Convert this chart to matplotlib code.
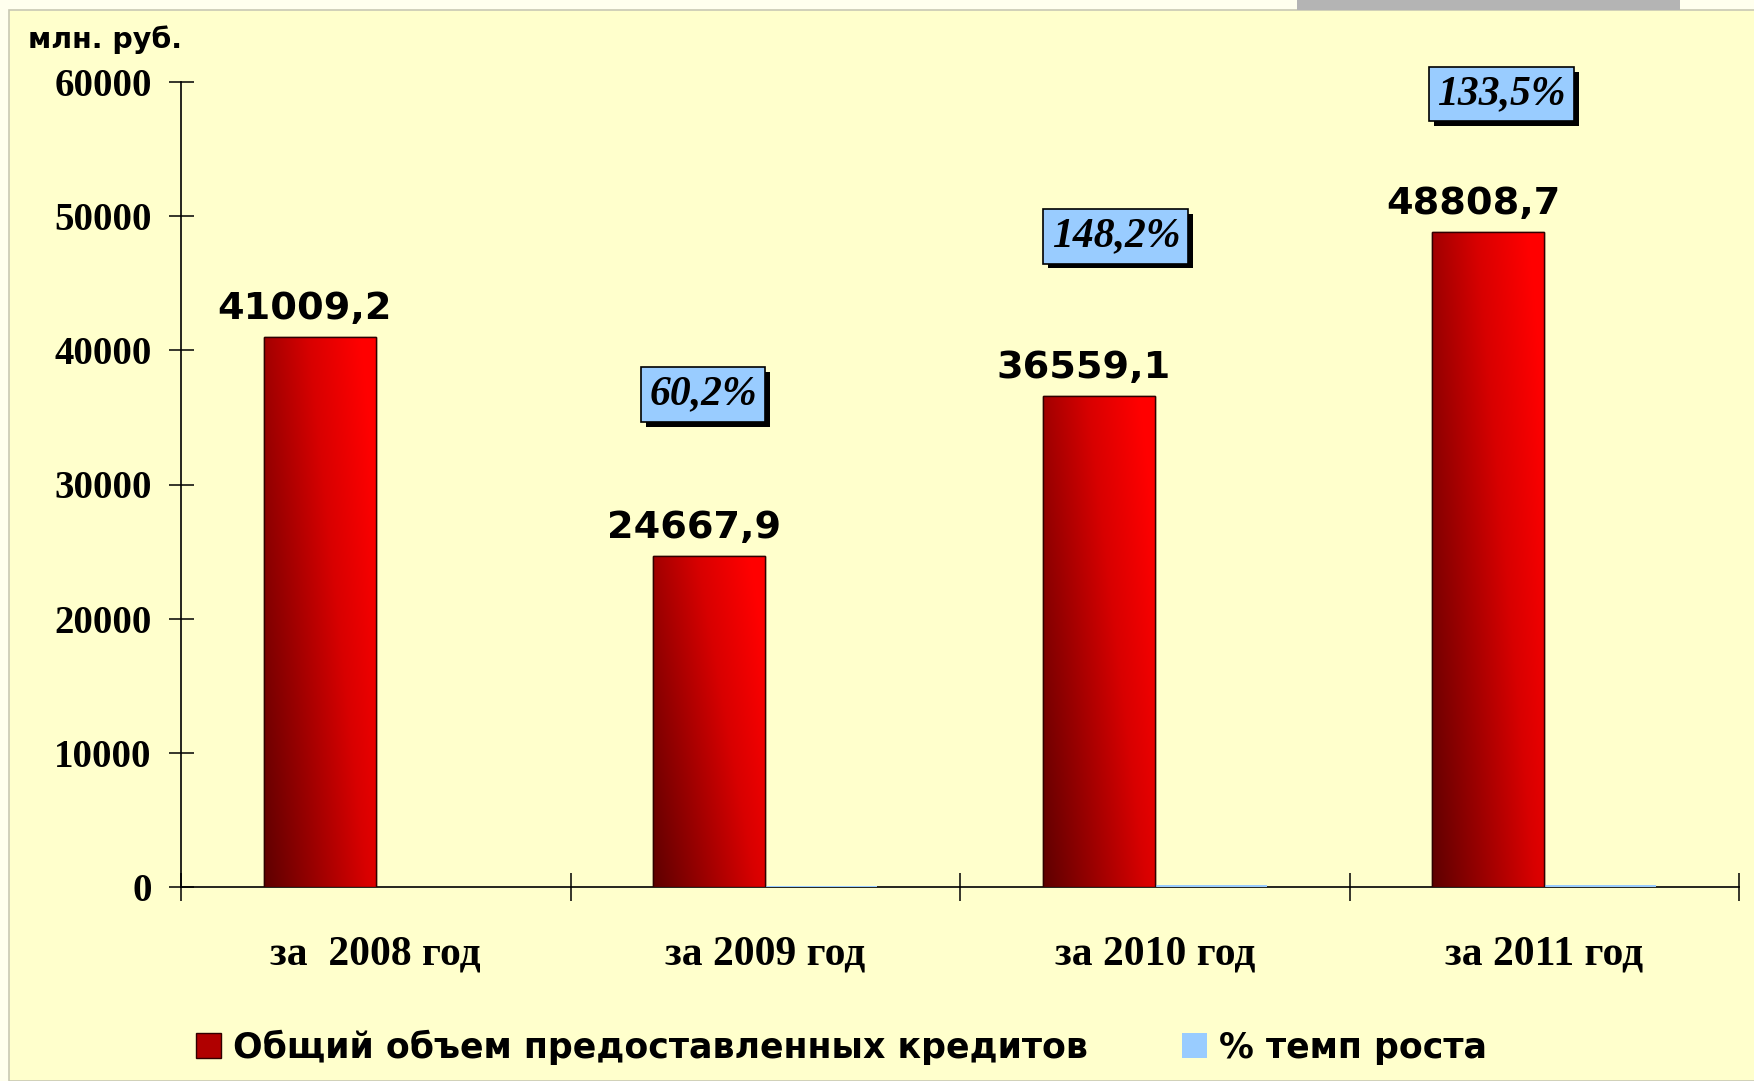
import numpy as np
import matplotlib
matplotlib.use("Agg")
import matplotlib.pyplot as plt
from matplotlib.patches import Patch, Rectangle
from matplotlib.colors import LinearSegmentedColormap
import matplotlib.patheffects as pe

# ---------------- data ----------------
categories = ["за  2008 год", "за 2009 год", "за 2010 год", "за 2011 год"]
credits = [41009.2, 24667.9, 36559.1, 48808.7]
credit_labels = ["41009,2", "24667,9", "36559,1", "48808,7"]
growth = [np.nan, 60.2, 148.2, 133.5]
growth_labels = ["", "60,2%", "148,2%", "133,5%"]
yticks = [0, 10000, 20000, 30000, 40000, 50000, 60000]
series_names = ["Общий объем предоставленных кредитов", "% темп роста"]
unit_label = "млн. руб."

# label placement (styling only)
growth_label_x = [None, 0.84, 1.90, 2.89]
growth_label_y = [None, 36700, 48500, 59100]

BG = "#FFFFCC"
BLUE = "#99CCFF"

W, H = 1754, 1081
fig = plt.figure(figsize=(W / 100, H / 100), dpi=100)
fig.patch.set_facecolor("#FFFFEE")

# inner panel and frame
fig.add_artist(Rectangle((9 / W, 0), 1, 1 - 10 / H, transform=fig.transFigure,
                         facecolor=BG, edgecolor="#C8C8B4", linewidth=1.2, zorder=0))
fig.add_artist(Rectangle((1297 / W, 1 - 10 / H), (1680 - 1297) / W, 10 / H,
                         transform=fig.transFigure, facecolor="#B4B4B4",
                         edgecolor="none", zorder=1))

ax = fig.add_axes([181 / W, 194 / H, (1739 - 181) / W, (887 - 82) / H])
ax.set_facecolor("none")

x = np.arange(len(categories))
w = 0.287
red_bars = ax.bar(x - w / 2, credits, width=w, color="#C00000",
                  edgecolor="#300000", linewidth=1.0, zorder=3)
blue_bars = ax.bar(x + w / 2, growth, width=w, color=BLUE,
                   edgecolor="none", zorder=3)

# gradient fill for red bars
cmap = LinearSegmentedColormap.from_list(
    "redgrad", ["#5E0000", "#9A0000", "#D80000", "#FF0000"])
gx = np.linspace(0, 1, 200)
gy = np.linspace(0, 1, 200)
GX, GY = np.meshgrid(gx, gy)
grad = np.clip(0.72 * GX + 0.38 * GY, 0, 1)
for bar in red_bars:
    x0, y0 = bar.get_x(), bar.get_y()
    bw, bh = bar.get_width(), bar.get_height()
    im = ax.imshow(grad, extent=(x0, x0 + bw, y0, y0 + bh), origin="lower",
                   cmap=cmap, vmin=0, vmax=1, aspect="auto", zorder=3.5,
                   interpolation="bilinear")
    im.set_clip_path(bar)
    ax.add_patch(Rectangle((x0, y0), bw, bh, facecolor="none",
                           edgecolor="#300000", linewidth=1.0, zorder=4))

ax.set_xlim(-0.5, len(categories) - 0.5)
ax.set_ylim(0, 60000)

# value labels
for bar, lab in zip(red_bars, credit_labels):
    ax.annotate(lab, (bar.get_x() + bar.get_width() / 2, bar.get_height()),
                xytext=(-11, 13), textcoords="offset points",
                ha="center", va="baseline", fontsize=27.5, fontweight="bold",
                family="DejaVu Sans", color="black", zorder=6)

# growth labels in boxes with shadow
for lx, ly, lab in zip(growth_label_x, growth_label_y, growth_labels):
    if not lab:
        continue
    t = ax.text(lx, ly, lab, ha="center", va="center", fontsize=30,
                fontweight="bold", fontstyle="italic", family="Liberation Serif",
                color="black", zorder=7, clip_on=False,
                bbox=dict(boxstyle="square,pad=0.2", facecolor=BLUE,
                          edgecolor="black", linewidth=1.2))
    t.get_bbox_patch().set_path_effects([
        pe.withSimplePatchShadow(offset=(3.5, -3.5), shadow_rgbFace="black",
                                 alpha=1.0)])

# axes styling
for s in ["top", "right"]:
    ax.spines[s].set_visible(False)
for s in ["left", "bottom"]:
    ax.spines[s].set_linewidth(1.2)
    ax.spines[s].set_color("black")

ax.set_yticks(yticks)
ax.set_yticklabels([str(v) for v in yticks])
ax.tick_params(axis="y", direction="inout", length=18, width=1.1, pad=12,
               labelsize=28)
for lab in ax.get_yticklabels():
    lab.set_fontfamily("Liberation Serif")
    lab.set_fontweight("bold")

ax.set_xticks(np.arange(len(categories) + 1) - 0.5)
ax.set_xticklabels([])
ax.tick_params(axis="x", which="major", direction="inout", length=20,
               width=1.1)
ax.set_xticks(x, minor=True)
ax.set_xticklabels(categories, minor=True)
ax.tick_params(axis="x", which="minor", length=0, pad=35, labelsize=30)
for lab in ax.get_xticklabels(minor=True):
    lab.set_fontfamily("Liberation Serif")
    lab.set_fontweight("bold")

# unit label
fig.text(28 / W, 1 - 40 / H, unit_label, ha="left", va="center",
         fontsize=20.5, fontweight="bold", family="DejaVu Sans")

# legend
handles = [Patch(facecolor="#B00000", edgecolor="#300000", linewidth=1.0),
           Patch(facecolor=BLUE, edgecolor="none")]
leg = fig.legend(handles, series_names, loc="center left",
                 bbox_to_anchor=(182 / W, 1 - 1047 / H), ncol=2, frameon=False,
                 prop=dict(family="DejaVu Sans", weight="bold", size=25),
                 handlelength=0.72, handleheight=0.72, handletextpad=0.35,
                 columnspacing=2.7, borderaxespad=0)

fig.savefig("out.png", dpi=100, facecolor=fig.get_facecolor())
